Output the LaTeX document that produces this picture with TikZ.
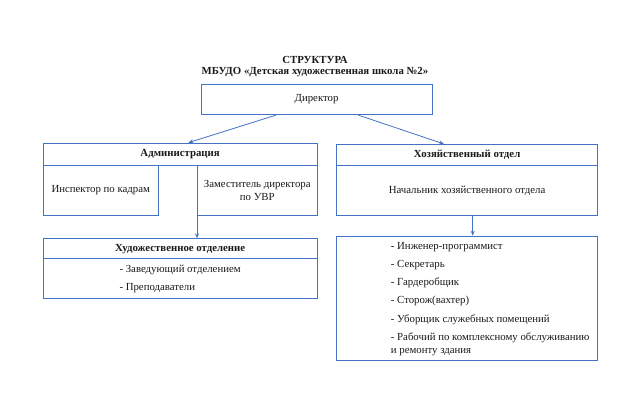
\documentclass[tikz,border=0pt]{standalone}
\usepackage{fontspec}
\setmainfont{Liberation Serif}
\usetikzlibrary{arrows.meta}
\definecolor{bline}{HTML}{4472C4}
\definecolor{txt}{HTML}{1A1A1A}
\tikzset{
  box/.style={draw=bline, line width=0.8pt, inner sep=0pt, anchor=north west, text=txt,
    font=\fontsize{10.8}{12.8}\selectfont, align=center},
  hdr/.style={box, font=\fontsize{10.8}{12.8}\selectfont\bfseries},
  plain/.style={inner sep=0pt, text=txt, font=\fontsize{10.8}{12.8}\selectfont},
  conn/.style={draw=bline, line width=0.8pt, -{Stealth[length=5pt,width=4pt]}},
}
\begin{document}
\begin{tikzpicture}[x=1pt,y=-1pt]
\useasboundingbox[fill=white] (0,0) rectangle (640,407);
% title
\node[plain, font=\fontsize{10.8}{12.8}\selectfont\bfseries] (t1) at (315,59.7) {СТРУКТУРА};
\node[plain, font=\fontsize{10.8}{12.8}\selectfont\bfseries] (t2) at (315,71.6) {МБУДО «Детская художественная школа №2»};
% director
\node[box, minimum width=231pt, minimum height=30.3pt] (dir) at (200.7,84) {Директор};
% administration
\node[hdr, minimum width=274pt, minimum height=22.3pt] (adm) at (42.7,142.7) {Администрация};
\node[box, minimum width=115.3pt, minimum height=50.3pt] (insp) at (42.7,165) {Инспектор по кадрам};
\node[box, minimum width=119.7pt, minimum height=50.3pt] (dep) at (197,165) {Заместитель директора\\по УВР};
% household
\node[hdr, minimum width=261.3pt, minimum height=21pt] (hoz) at (336,144) {Хозяйственный отдел};
\node[box, minimum width=261.3pt, minimum height=50.3pt] (nach) at (336,165) {Начальник хозяйственного отдела};
% art department
\node[hdr, minimum width=274pt, minimum height=20pt] (art) at (42.7,238.3) {Художественное отделение};
\node[box, minimum width=274pt, minimum height=39.7pt] (artb) at (42.7,258.3) {};
\node[plain, anchor=north west, align=left] (arttxt) at (119.3,264.8) {- Заведующий отделением\\[5.5pt]- Преподаватели};
% list
\node[box, minimum width=261.3pt, minimum height=124.3pt] (lst) at (336,235.7) {};
\node[plain, anchor=north west, align=left] (lsttxt) at (390.7,241.8) {- Инженер-программист\\[5.5pt]- Секретарь\\[5.5pt]- Гардеробщик\\[5.5pt]- Сторож(вахтер)\\[5.5pt]- Уборщик служебных помещений\\[5.5pt]- Рабочий по комплексному обслуживанию\\и ремонту здания};
% connectors
\coordinate (d1) at ([xshift=75.3pt]dir.south west);
\coordinate (d2) at ([xshift=157.6pt]dir.south west);
\coordinate (a1) at ([xshift=145.6pt]adm.north west);
\coordinate (h1) at ([xshift=108pt]hoz.north west);
\draw[conn] (d1) -- (a1);
\draw[conn] (d2) -- (h1);
\draw[conn] (dep.south west) -- (dep.south west |- art.north);
\coordinate (n1) at ([xshift=136.7pt]nach.south west);
\draw[conn] (n1) -- (n1 |- lst.north);
\end{tikzpicture}
\end{document}
